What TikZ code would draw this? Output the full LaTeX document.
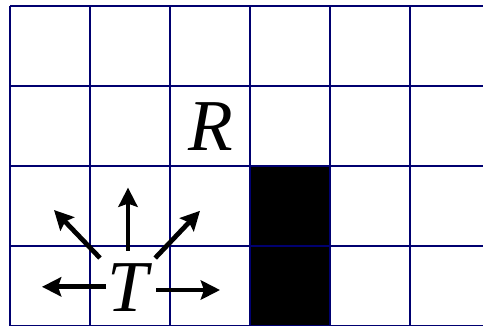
\documentclass[tikz,border=0pt]{standalone}
\usepackage{fontspec}
\setmainfont{Liberation Serif}
\usetikzlibrary{arrows.meta}
\definecolor{gridline}{HTML}{000070}
\definecolor{wall}{HTML}{000000}

\begin{document}
\begin{tikzpicture}[
    cell/.style={gridline, line width=0.9pt},
    blocked/.style={fill=wall},
    agent/.style={font=\fontsize{26}{30}\selectfont\itshape, inner sep=0pt},
    move/.style={black, -{Stealth[length=2.4mm,width=2.4mm,inset=0.4mm]}, line width=1.7pt}
]

\useasboundingbox (-0.125,0.0125) rectangle (5.9125,4.075);
\clip (-0.125,0.0125) rectangle (5.9125,4.075);

% obstacle cells
\fill[blocked] (3,0) rectangle (4,2);

% grid
\draw[cell] (0,-1) grid (7,4);

\node[agent] (R) at (2.51,2.49) {R};
\node[agent] (T) at (1.475,0.48) {T};

\foreach \sx/\sy/\ex/\ey in {
     0.000/0.460/ 0.000/1.250,
    -0.350/0.370/-0.925/0.970,
     0.340/0.370/ 0.900/0.960,
    -0.275/0.010/-1.075/0.010,
     0.350/-0.030/ 1.150/-0.030
}{
    \draw[move] ([shift={(\sx,\sy)}]T.center) -- ([shift={(\ex,\ey)}]T.center);
}

\end{tikzpicture}
\end{document}
